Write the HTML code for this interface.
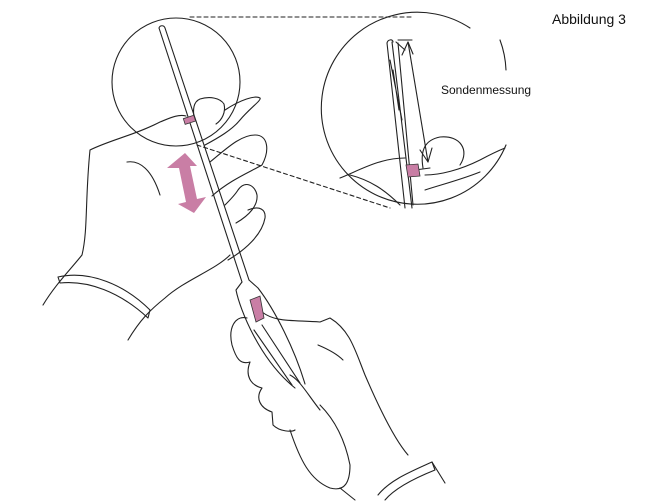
<!DOCTYPE html>
<html><head><meta charset="utf-8"><style>
html,body{margin:0;padding:0;background:#fff;}
svg{display:block}
text{font-family:"Liberation Sans",Arial,sans-serif;}
</style></head><body>
<svg width="655" height="503" viewBox="0 0 655 503" xmlns="http://www.w3.org/2000/svg">
<g fill="none" stroke="#222" stroke-width="1.1" stroke-linecap="round" stroke-linejoin="round">
<path d="M190 17 L411 17" stroke-dasharray="4 3"/>
<path d="M197 145 L390 208" stroke-dasharray="4 3"/>
<circle cx="176" cy="82" r="64"/>
<path d="M43 305 C55 285 70 270 82 255 C88 230 85 200 90 150 C110 140 135 135 160 122 C170 118 178 114 186 116"/>
<path d="M58 277 C90 270 125 285 150 310 L148 318 C120 292 88 280 60 283 Z"/>
<path d="M128 340 C140 320 150 310 165 298 C185 280 215 270 230 255"/>
<path d="M228 260 C245 250 262 235 265 218 C266 210 260 205 248 210"/>
<path d="M236 223 C250 215 258 205 257 195 C255 185 245 180 238 190 C235 195 230 200 225 205"/>
<path d="M212 196 C230 180 250 172 262 165 C270 150 268 135 255 135 C240 135 225 150 210 162"/>
<path d="M205 145 C218 138 232 130 240 120 C250 108 262 100 260 98 C255 95 240 100 225 110"/>
<path d="M194 118 C193 110 193 102 200 99 C210 96 220 98 224 104 C226 112 222 120 216 124"/>
<path d="M127 162 C140 160 152 170 160 195"/>
<path d="M159 28 L242 282"/>
<path d="M165 28 L249 280"/>
<path d="M159 28 C160 25 164 25 165 28"/>
<path d="M242 282 L236 290 C240 310 260 360 295 388"/>
<path d="M249 280 L258 288 C275 310 295 350 305 384"/>
<path d="M254 330 L292 385 M262 325 L300 383"/>
<path d="M262 312 C275 322 290 320 320 322 L330 318 C350 330 355 350 365 375 C380 410 395 440 408 455"/>
<path d="M247 318 C235 315 228 328 232 345 C236 358 240 365 250 362 C245 375 250 385 262 388 C255 398 260 408 272 412 L273 425 C280 432 292 432 295 430"/>
<path d="M290 430 C300 460 310 480 330 488 C345 492 350 482 350 465 C345 440 335 420 320 405"/>
<path d="M340 488 L355 500 M378 495 C390 480 410 472 432 462 L435 470 C415 478 395 488 385 500"/>
<path d="M432 462 L445 483"/>
<path d="M290 375 C300 380 308 395 320 410"/>
<path d="M318 345 C330 350 338 355 343 360"/>
<path d="M470 28 A96 96 0 1 0 506 145" />
<path d="M500 40 A96 96 0 0 1 506 70"/>
<path d="M387 43 L405 208 M392 42 L412 208 M398 43 L413 205"/>
<path d="M387 43 C388 39 393 39 393 42"/>
<path d="M396 42 L405 50 M390 60 L402 120 M393 70 L399 110"/>
<path d="M398 40 L412 40 M415 170 L430 168"/>
<path d="M408 42 L428 162"/>
<path d="M402 55 L408 42 L413 54"/>
<path d="M420 150 L428 162 L432 148"/>
<path d="M340 178 C360 170 380 158 405 158"/>
<path d="M423 168 C420 150 425 140 440 137 C460 135 470 150 460 165"/>
<path d="M425 175 C440 175 460 170 480 160 C495 152 500 150 505 148"/>
<path d="M425 190 C440 185 460 180 480 172"/>
<path d="M350 175 C370 180 385 190 400 205"/>
</g>
<g fill="#c97ea5" stroke="#333" stroke-width="0.8">
<rect x="184" y="117" width="11" height="6" transform="rotate(-18 189 120)"/>
<path d="M406 165 L418 164 L420 176 L408 177 Z"/>
<path d="M250 300 L260 296 L264 318 L256 322 Z"/>
</g>
<path d="M167 168 L185 153 L197 166 L190 166 L197 199 L206 197 L194 213 L178 204 L186 202 L179 168 Z" fill="#c97ea5"/>
<text x="441" y="94" font-size="12" fill="#111">Sondenmessung</text>
<text x="552" y="24" font-size="14" fill="#111">Abbildung 3</text>
</svg>
</body></html>
